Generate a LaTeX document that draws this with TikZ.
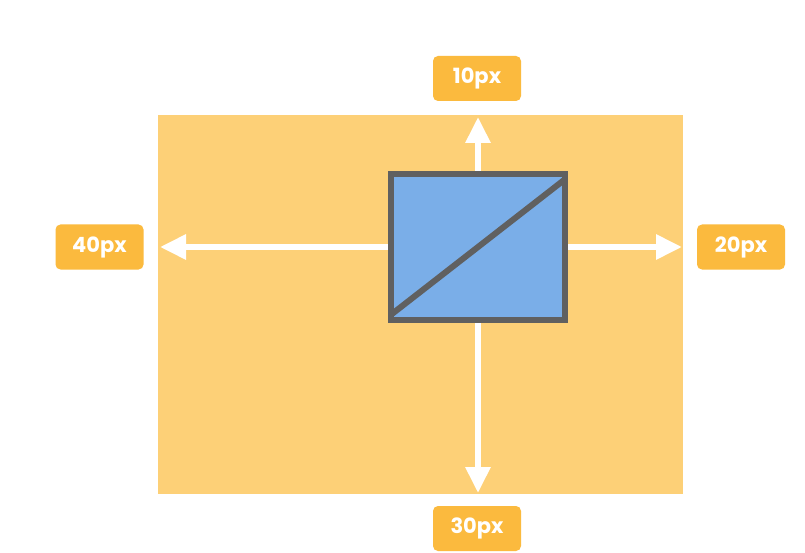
\documentclass[tikz,border=0pt]{standalone}
\usepackage{fontspec}
\setmainfont{Poppins}
\usetikzlibrary{arrows.meta}
\definecolor{bgorange}{HTML}{FDD077}
\definecolor{lblorange}{HTML}{FBBA3E}
\definecolor{boxblue}{HTML}{7AAEE8}
\definecolor{boxgray}{HTML}{606060}
\tikzset{
  lbl/.style={fill=lblorange, rounded corners=5pt, minimum width=88pt, minimum height=45pt, inner sep=0pt, text=white, font=\fontsize{21}{21}\selectfont\bfseries},
  arr/.style={draw=white, line width=6pt, -{Triangle[width=24pt,length=26pt]}},
  boxst/.style={fill=boxblue, minimum width=174pt, minimum height=146pt, inner sep=0pt},
}
\begin{document}
\begin{tikzpicture}[x=1pt,y=-1pt]
\useasboundingbox[fill=white] (0,0) rectangle (805,553);
\fill[bgorange] (158,115) rectangle (683,494);
\node[lbl] (t) at (477,78.5) {10px};
\node[lbl] (l) at (99.5,247) {40px};
\node[lbl] (r) at (741,247) {20px};
\node[lbl] (b) at (477,528.5) {30px};
\coordinate (tt) at (478,117);
\coordinate (lt) at (160,247);
\coordinate (rt) at (682,247);
\coordinate (bt) at (478,493);
\node[boxst] (box) at (478,247) {};
\draw[arr] (box.north) -- (tt);
\draw[arr] (box.west) -- (lt);
\draw[arr] (box.east) -- (rt);
\draw[arr] (box.south) -- (bt);
\begin{scope}
\clip (box.south west) rectangle (box.north east);
\fill[boxblue] (box.south west) rectangle (box.north east);
\draw[boxgray, line width=6pt] ([shift={(-3pt,3pt)}]box.south west) -- ([shift={(3pt,-3pt)}]box.north east);
\end{scope}
\draw[boxgray, line width=6pt] (box.south west) rectangle (box.north east);
\end{tikzpicture}
\end{document}
